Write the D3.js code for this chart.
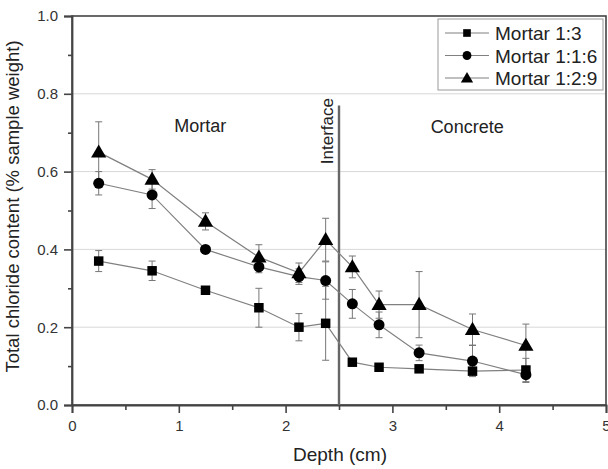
<!DOCTYPE html>
<html>
<head>
<meta charset="utf-8">
<script src="https://cdn.jsdelivr.net/npm/d3@7"></script>
<style>
  body { margin: 0; background: #fff; }
  text { font-family: "Liberation Sans", Arial, sans-serif; }
</style>
</head>
<body>
<svg id="chart" width="608" height="469"></svg>
<script>
// Sampling depths (cm)
const depths = [0.25, 0.75, 1.25, 1.75, 2.125, 2.375, 2.625, 2.875, 3.25, 3.75, 4.25];
const seriesNames = ["Mortar 1:3", "Mortar 1:1:6", "Mortar 1:2:9"];
const seriesSymbols = ["square", "circle", "triangle"];

// Total chloride content (% sample weight)
const mortar13 =  [0.37, 0.345, 0.295, 0.25, 0.20, 0.21, 0.11, 0.097, 0.093, 0.087, 0.09];
const mortar116 = [0.57, 0.54, 0.40, 0.355, 0.33, 0.32, 0.26, 0.206, 0.134, 0.113, 0.078];
const mortar129 = [0.65, 0.58, 0.472, 0.38, 0.34, 0.425, 0.355, 0.258, 0.258, 0.194, 0.153];

// Error bar half-widths
const err13 =  [0.027, 0.025, 0.0, 0.05, 0.035, 0.095, 0.0, 0.0, 0.0, 0.0, 0.03];
const err116 = [0.03, 0.035, 0.0, 0.015, 0.02, 0.048, 0.037, 0.033, 0.02, 0.04, 0.02];
const err129 = [0.078, 0.025, 0.022, 0.032, 0.025, 0.055, 0.028, 0.035, 0.085, 0.04, 0.055];

const xTicks = [0, 1, 2, 3, 4, 5];
const xMinorTicks = [0.5, 1.5, 2.5, 3.5, 4.5];
const yTicks = [0.0, 0.2, 0.4, 0.6, 0.8, 1.0];
const yMinorTicks = [0.1, 0.3, 0.5, 0.7, 0.9];
const gridValues = [0.2, 0.4, 0.6, 0.8];
const interfaceDepth = 2.5;
const interfaceTop = 0.77;

const series = [mortar13, mortar116, mortar129].map((vals, i) => ({
  name: seriesNames[i],
  symbol: seriesSymbols[i],
  points: depths.map((d, j) => ({ x: d, y: vals[j], e: [err13, err116, err129][i][j] }))
}));

const svg = d3.select("#chart");
const plotL = 72, plotR = 606, plotT = 16, plotB = 405;
const x = d3.scaleLinear().domain([0, 5]).range([plotL, plotR]);
const y = d3.scaleLinear().domain([0, 1]).range([plotB, plotT]);

const axisColor = "#444";

// Horizontal grid lines
svg.append("g").selectAll("line").data(gridValues).join("line")
  .attr("x1", plotL).attr("x2", plotR)
  .attr("y1", d => y(d)).attr("y2", d => y(d))
  .attr("stroke", "#d8d8d8").attr("stroke-width", 1);

// Frame
svg.append("rect")
  .attr("x", plotL).attr("y", plotT)
  .attr("width", plotR - plotL).attr("height", plotB - plotT)
  .attr("fill", "none").attr("stroke", axisColor).attr("stroke-width", 1.6);

// Axes
svg.append("g").attr("transform", `translate(0,${plotB})`)
  .call(d3.axisBottom(x).tickValues(xTicks).tickFormat(d3.format("d")).tickSize(8).tickPadding(7));
svg.append("g").attr("transform", `translate(0,${plotB})`)
  .call(d3.axisBottom(x).tickValues(xMinorTicks).tickFormat("").tickSize(5))
  .call(g => g.select(".domain").remove());
svg.append("g").attr("transform", `translate(${plotL},0)`)
  .call(d3.axisLeft(y).tickValues(yTicks).tickFormat(d3.format(".1f")).tickSize(8).tickPadding(6));
svg.append("g").attr("transform", `translate(${plotL},0)`)
  .call(d3.axisLeft(y).tickValues(yMinorTicks).tickFormat("").tickSize(4))
  .call(g => g.select(".domain").remove());

svg.selectAll(".domain").attr("stroke", axisColor).attr("stroke-width", 1.8);
svg.selectAll(".tick line").attr("stroke", axisColor).attr("stroke-width", 1.6);
svg.selectAll(".tick text").attr("fill", "#333").style("font-size", "15px")
  .style("font-family", '"Liberation Sans", Arial, sans-serif');

// Axis titles
svg.append("text")
  .attr("x", (plotL + plotR) / 2 + 1).attr("y", 461)
  .attr("text-anchor", "middle").attr("fill", "#222")
  .style("font-size", "19px").text("Depth (cm)");
svg.append("text")
  .attr("transform", `translate(19,${(plotT + plotB) / 2 - 4}) rotate(-90)`)
  .attr("text-anchor", "middle").attr("fill", "#222")
  .style("font-size", "18.5px").text("Total chloride content (% sample weight)");

// Interface marker
svg.append("line")
  .attr("x1", x(interfaceDepth)).attr("x2", x(interfaceDepth))
  .attr("y1", y(interfaceTop)).attr("y2", plotB)
  .attr("stroke", "#666").attr("stroke-width", 2.4);
svg.append("text")
  .attr("transform", `translate(${x(interfaceDepth) - 6},${y(0.704)}) rotate(-90)`)
  .attr("text-anchor", "middle").attr("fill", "#222")
  .style("font-size", "17px").text("Interface");

// Region labels
svg.append("text").attr("x", x(1.2)).attr("y", y(0.701))
  .attr("text-anchor", "middle").attr("fill", "#222").style("font-size", "18px").text("Mortar");
svg.append("text").attr("x", x(3.7)).attr("y", y(0.699))
  .attr("text-anchor", "middle").attr("fill", "#222").style("font-size", "18px").text("Concrete");

// Error bars
const errG = svg.append("g");
series.forEach(s => {
  s.points.filter(p => p.e > 0).forEach(p => {
    const cx = x(p.x);
    errG.append("line").attr("x1", cx).attr("x2", cx)
      .attr("y1", y(p.y - p.e)).attr("y2", y(p.y + p.e))
      .attr("stroke", "#777").attr("stroke-width", 1);
    [p.y - p.e, p.y + p.e].forEach(v => {
      errG.append("line").attr("x1", cx - 3.5).attr("x2", cx + 3.5)
        .attr("y1", y(v)).attr("y2", y(v))
        .attr("stroke", "#777").attr("stroke-width", 1);
    });
  });
});

// Lines
const line = d3.line().x(p => x(p.x)).y(p => y(p.y));
series.forEach(s => {
  svg.append("path").attr("d", line(s.points))
    .attr("fill", "none").attr("stroke", "#808080").attr("stroke-width", 1.2);
});

// Markers
const symbolTypes = { square: d3.symbolSquare, circle: d3.symbolCircle, triangle: d3.symbolTriangle };
const symbolSizes = { square: 90, circle: 95, triangle: 100 };
series.forEach(s => {
  const sym = d3.symbol().type(symbolTypes[s.symbol]).size(symbolSizes[s.symbol]);
  svg.append("g").selectAll("path").data(s.points).join("path")
    .attr("transform", p => `translate(${x(p.x)},${y(p.y) + (s.symbol === "triangle" ? 1 : 0)})`)
    .attr("d", sym).attr("fill", "#000");
});

// Legend
const lg = svg.append("g").attr("transform", "translate(438,19)");
lg.append("rect").attr("width", 165).attr("height", 71)
  .attr("fill", "#fff").attr("stroke", "#999").attr("stroke-width", 1);
series.forEach((s, i) => {
  const ly = 14 + i * 22.5;
  lg.append("line").attr("x1", 7).attr("x2", 51).attr("y1", ly).attr("y2", ly)
    .attr("stroke", "#808080").attr("stroke-width", 1.2);
  lg.append("path")
    .attr("transform", `translate(29,${ly + (s.symbol === "triangle" ? 1 : 0)})`)
    .attr("d", d3.symbol().type(symbolTypes[s.symbol]).size(symbolSizes[s.symbol] * 0.65)())
    .attr("fill", "#000");
  lg.append("text").attr("x", 57).attr("y", ly + 7)
    .attr("fill", "#222").style("font-size", "19px").text(s.name);
});
</script>
</body>
</html>
